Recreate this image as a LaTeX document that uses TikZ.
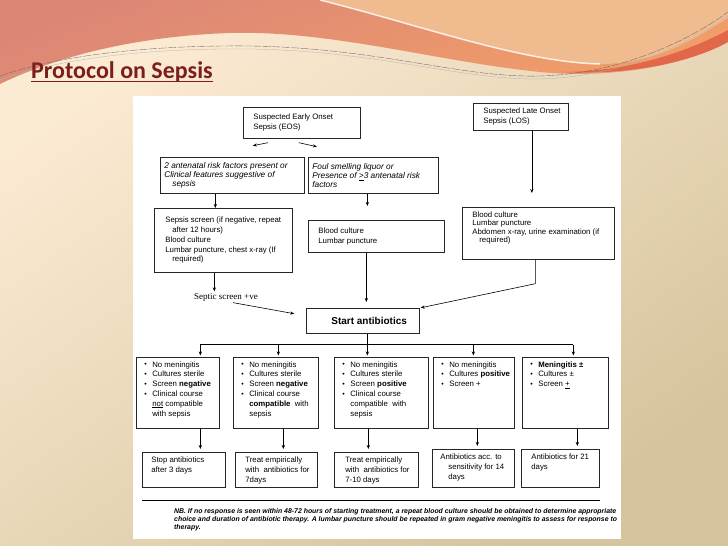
\documentclass[tikz,border=0pt]{standalone}
\usepackage{fontspec}
\setmainfont{Liberation Sans}
\newfontfamily\titlefont{Carlito}
\newfontfamily\notefont{Liberation Serif}
\usepackage{tikz}
\usetikzlibrary{arrows.meta, positioning, calc}
\usepackage{xcolor}
\definecolor{slidebg}{HTML}{FCEBD3}
\definecolor{slidetan}{HTML}{D6C49E}
\definecolor{wavesalmon}{HTML}{DC8676}
\definecolor{waveorange}{HTML}{F29E68}
\definecolor{wavepeach}{HTML}{F1BB90}
\definecolor{wavered}{HTML}{E2664A}
\definecolor{titlered}{HTML}{7B1E1E}
\newcommand{\boxtext}[4][t]{\parbox[c][\dimexpr#3-8pt\relax][#1]{\dimexpr#2-8pt\relax}{\raggedright #4}}
\newcommand{\bul}{\hspace*{4pt}\makebox[8pt][l]{\fontsize{7}{7}\selectfont\raisebox{.3pt}{\textbullet}}}
\newcommand{\cont}{\hspace*{12pt}}

\begin{document}
\begin{tikzpicture}[
    x=1pt, y=-1pt,
    every node/.style={font=\fontsize{7.8}{9.8}\selectfont},
    box/.style={rectangle, draw=black!85, line width=0.7pt, fill=white, anchor=north west, inner xsep=4pt, inner ysep=4pt},
    endbox/.style={box, font=\fontsize{7.8}{10}\selectfont},
    riskbox/.style={box, font=\fontsize{8.3}{9}\selectfont\itshape},
    arr/.style={-{Stealth[length=4pt, width=3.2pt]}, line width=0.6pt}
]
    \useasboundingbox (0,0) rectangle (728,546);
    \shade[top color=slidebg, middle color=slidebg, bottom color=slidetan, shading angle=35] (0,0) rectangle (728,546);
    \shade[top color=wavesalmon, bottom color=waveorange, shading angle=20]
        (0,0) -- (728,0) -- (728,40) .. controls (680,70) and (600,78) .. (540,72)
        .. controls (440,62) and (330,30) .. (230,33) .. controls (140,36) and (60,55) .. (0,84) -- cycle;
    \fill[wavepeach] (320,0) .. controls (420,25) and (520,62) .. (600,64)
        .. controls (660,64) and (700,35) .. (728,18) -- (728,0) -- cycle;
    \draw[white, opacity=.8, line width=1.5pt] (320,0) .. controls (420,25) and (520,62) .. (600,64);
    \fill[wavered] (560,72) .. controls (640,72) and (700,45) .. (728,30) -- (728,42)
        .. controls (700,58) and (640,76) .. (560,72) -- cycle;
    \draw[black!55, line width=0.4pt, dash pattern=on 8pt off 1.5pt]
        (0,76) .. controls (60,55) and (150,45) .. (250,46) .. controls (380,48) and (460,78) .. (540,76)
        .. controls (620,74) and (690,40) .. (728,12);
    \draw[black!30, line width=0.3pt]
        (0,80) .. controls (60,58) and (150,48) .. (250,49) .. controls (380,51) and (460,80) .. (540,79)
        .. controls (620,77) and (690,44) .. (728,16);

    \node[anchor=base west, inner sep=0pt, text=titlered, font=\titlefont\bfseries\fontsize{24}{28}\selectfont] (title) at (31,78) {Protocol on Sepsis};
    \draw[titlered, line width=1.6pt] ([yshift=-3.5pt]title.base west) -- ([yshift=-3.5pt]title.base east);

    \fill[white] (133,96) rectangle (621,539);

    \node[box] (eos) at (243,107) {\boxtext[c]{117pt}{31pt}{\hspace*{6pt}Suspected Early Onset\\\hspace*{6pt}Sepsis (EOS)}};
    \node[box] (los) at (473,103) {\boxtext[c]{95pt}{27pt}{\hspace*{6pt}Suspected Late Onset\\\hspace*{6pt}Sepsis (LOS)}};
    \node[riskbox] (risk) at (160,157) {\boxtext[c]{144pt}{36pt}{2 antenatal risk factors present or\\Clinical features suggestive of\\\hspace*{8pt}sepsis}};
    \node[riskbox] (foul) at (308,157) {\boxtext[c]{130pt}{36pt}{Foul smelling liquor or\\Presence of \underline{>}3 antenatal risk\\factors}};
    \node[box] (screen) at (154,208) {\boxtext[c]{138pt}{64pt}{\hspace*{7pt}Sepsis screen (if negative, repeat\\\hspace*{14pt}after 12 hours)\\\hspace*{7pt}Blood culture\\\hspace*{7pt}Lumbar puncture, chest x-ray (If\\\hspace*{14pt}required)}};
    \node[box] (bcl) at (308,220) {\boxtext[c]{136pt}{32pt}{\hspace*{6pt}Blood culture\\\hspace*{6pt}Lumbar puncture}};
    \node[box, font=\fontsize{7.8}{8.6}\selectfont] (losw) at (462,207) {\boxtext{152pt}{52pt}{\hspace*{6pt}Blood culture\\\hspace*{6pt}Lumbar puncture\\\hspace*{6pt}Abdomen x-ray, urine examination (if\\\hspace*{13pt}required)}};
    \node[font=\notefont\fontsize{9}{10}\selectfont, inner sep=1.5pt] (septic) at (226,297) {Septic screen +ve};
    \node[box] (start) at (306,308) {\boxtext[c]{113pt}{25pt}{\hspace*{21pt}\fontsize{10}{11}\selectfont\bfseries Start antibiotics}};

    \node[box] (c1) at (136,357) {\boxtext{83pt}{71pt}{\bul No meningitis\\\bul Cultures sterile\\\bul Screen \textbf{negative}\\\bul Clinical course\\\cont\underline{not} compatible\\\cont with sepsis}};
    \node[box] (c2) at (233,357) {\boxtext{85pt}{71pt}{\bul No meningitis\\\bul Cultures sterile\\\bul Screen \textbf{negative}\\\bul Clinical course\\\cont\textbf{compatible}\ \ with\\\cont sepsis}};
    \node[box] (c3) at (334,357) {\boxtext{94pt}{71pt}{\bul No meningitis\\\bul Cultures sterile\\\bul Screen \textbf{positive}\\\bul Clinical course\\\cont compatible\ \ with\\\cont sepsis}};
    \node[box] (c4) at (433,357) {\boxtext{81pt}{71pt}{\bul No meningitis\\\bul \mbox{Cultures \textbf{positive}}\\\bul Screen +}};
    \node[box] (c5) at (522,357) {\boxtext{86pt}{71pt}{\bul \textbf{Meningitis ±}\\\bul Cultures ±\\\bul Screen \underline{+}}};

    \node[endbox] (t1) at (142,452) {\boxtext{83pt}{35pt}{\hspace*{5pt}Stop antibiotics\\\hspace*{5pt}after 3 days}};
    \node[endbox] (t2) at (235,452) {\boxtext{82pt}{35pt}{\hspace*{6pt}Treat empirically\\\hspace*{6pt}\mbox{with\ \ antibiotics for}\\\hspace*{6pt}7days}};
    \node[endbox] (t3) at (334,452) {\boxtext{84pt}{35pt}{\hspace*{7pt}Treat empirically\\\hspace*{7pt}\mbox{with\ \ antibiotics for}\\\hspace*{7pt}7-10 days}};
    \node[endbox] (t4) at (432,449) {\boxtext{82pt}{38pt}{\hspace*{4pt}Antibiotics acc. to\\\hspace*{12pt}sensitivity for 14\\\hspace*{12pt}days}};
    \node[endbox] (t5) at (521,449) {\boxtext{78pt}{38pt}{\hspace*{6pt}Antibiotics for 21\\\hspace*{6pt}days}};

    \node[anchor=north west, inner sep=0pt, align=left, font=\fontsize{6.9}{8}\selectfont\bfseries\itshape] (nb) at (174,508)
        {NB. If no response is seen within 48-72 hours of starting treatment, a repeat blood culture should be obtained to determine appropriate\\
         choice and duration of antibiotic therapy. A lumbar puncture should be repeated in gram negative meningitis to assess for response to\\
         therapy.};
    \draw[line width=1.1pt] ([yshift=-13pt]t1.south west) -- ([yshift=-13pt]t1.south west -| t5.south east);

    \draw[arr] ([xshift=-34pt,yshift=-4pt]eos.south) -- ([xshift=-49pt,yshift=-7pt]eos.south);
    \draw[arr] ([xshift=-3pt,yshift=-4pt]eos.south) -- ([xshift=15pt,yshift=-8pt]eos.south);
    \draw[arr] ([xshift=-17pt]risk.south) -- ([xshift=-17pt]risk.south |- screen.north);
    \draw[arr, shorten >=14pt] ([xshift=-6pt]foul.south) -- ([xshift=-6pt]foul.south |- bcl.north);
    \draw[arr, shorten >=14pt] ([xshift=11pt]los.south) -- ([xshift=11pt]los.south |- losw.north);
    \draw[arr] ([xshift=-9pt]screen.south) -- ([xshift=-9pt]screen.south |- septic.north);
    \draw[arr, shorten >=12pt] ([xshift=7pt]septic.south) -- ([yshift=5pt]start.west);
    \draw[arr, shorten >=6pt] ([xshift=-10pt]bcl.south) -- ([xshift=-10pt]bcl.south |- start.north);
    \draw[arr, shorten >=1pt] ([xshift=-3pt]losw.south) -- ++(0,24) -- (start.north east);

    \draw[line width=0.6pt] ([xshift=4pt]start.south) -- ++(0,11) coordinate (hub);
    \foreach \n/\dx in {c1/22.5, c2/2.5, c3/-14, c4/-0.5, c5/8}
        \coordinate (top\n) at ([xshift=\dx pt]\n.north);
    \draw[line width=0.6pt] (hub -| topc1) -- (hub -| topc5);
    \foreach \n in {c1, c2, c3, c4, c5}
        \draw[arr, shorten >=1.5pt] (hub -| top\n) -- (top\n);
    \foreach \n/\m/\dx in {c1/t1/22.5, c2/t2/7.5, c3/t3/-13, c4/t4/3.5, c5/t5/12}
        \draw[arr, shorten >=3pt] ([xshift=\dx pt]\n.south) -- ([xshift=\dx pt]\n.south |- \m.north);
\end{tikzpicture}
\end{document}
